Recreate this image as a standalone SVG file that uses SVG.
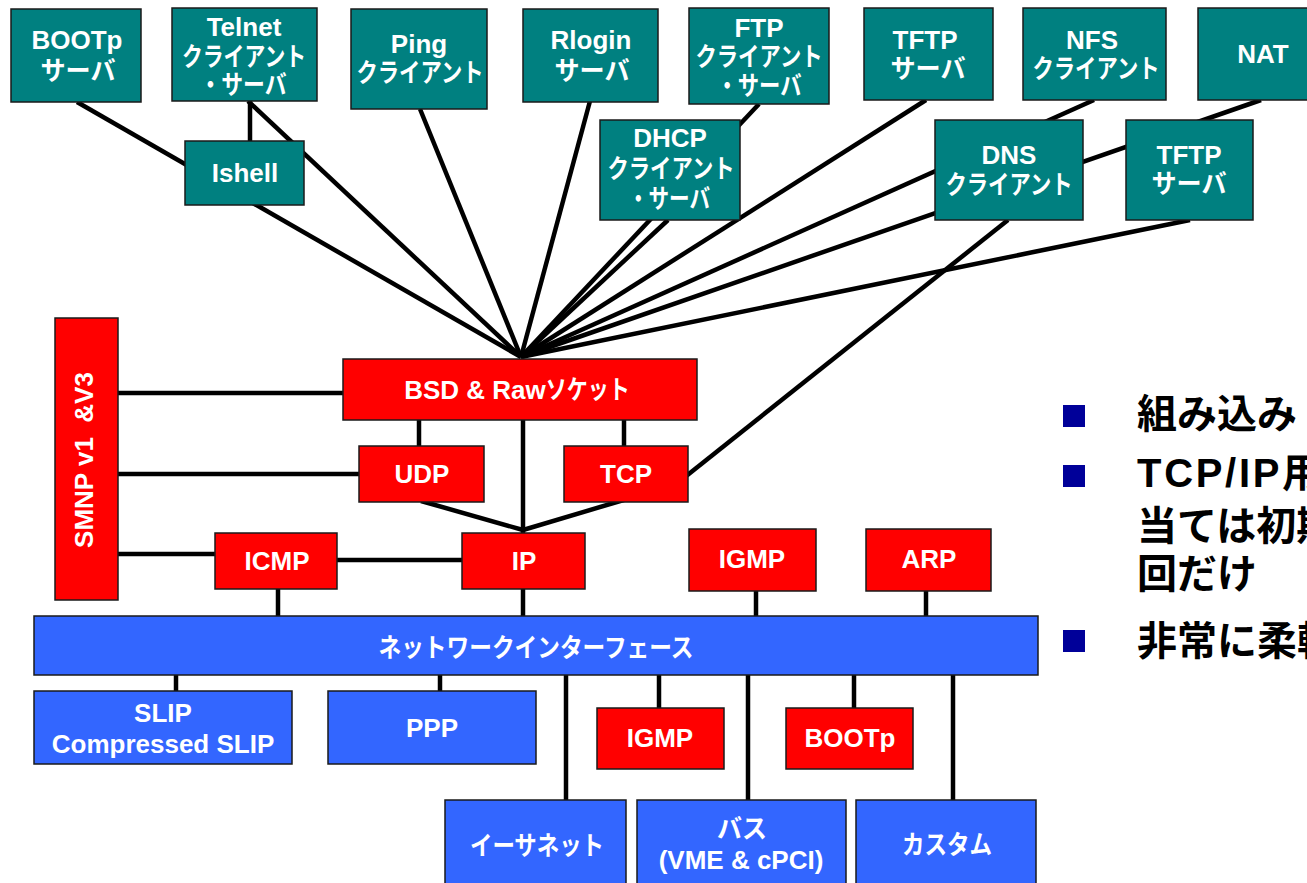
<svg xmlns="http://www.w3.org/2000/svg" width="1307" height="883" viewBox="0 0 1307 883">
<style>
  .t { fill:#008080; stroke:#1a1a1a; stroke-width:1.5; }
  .r { fill:#FF0000; stroke:#1a1a1a; stroke-width:1.5; }
  .b { fill:#3366FF; stroke:#1a1a1a; stroke-width:1.5; }
  text { font-family:'Liberation Sans','Noto Sans CJK JP',sans-serif; font-weight:bold; }
  .l { fill:#ffffff; font-size:26px; text-anchor:middle; }
  .n { fill:#000000; font-size:40px; }
  .c line { stroke:#000000; stroke-width:4.5; }
</style>
<rect width="1307" height="883" fill="#ffffff"/>
<g id="connectors" class="c">
  <line x1="77" y1="102" x2="521" y2="357"/>
  <line x1="248" y1="101" x2="521" y2="357"/>
  <line x1="250" y1="101" x2="250" y2="141"/>
  <line x1="420" y1="109" x2="521" y2="357"/>
  <line x1="590" y1="101" x2="521" y2="357"/>
  <line x1="668" y1="220" x2="521" y2="357"/>
  <line x1="759" y1="104" x2="521" y2="357"/>
  <line x1="926" y1="100" x2="521" y2="357"/>
  <line x1="1094" y1="100" x2="521" y2="357"/>
  <line x1="1261" y1="100" x2="521" y2="357"/>
  <line x1="1190" y1="220" x2="521" y2="357"/>
  <line x1="1008" y1="220" x2="685" y2="477"/>
  <line x1="118" y1="393" x2="343" y2="393"/>
  <line x1="118" y1="474" x2="359" y2="474"/>
  <line x1="118" y1="554" x2="215" y2="554"/>
  <line x1="419" y1="420" x2="419" y2="446"/>
  <line x1="624" y1="420" x2="624" y2="446"/>
  <line x1="523" y1="420" x2="523" y2="533"/>
  <line x1="421" y1="501" x2="523" y2="530"/>
  <line x1="627" y1="499" x2="523" y2="530"/>
  <line x1="337" y1="560" x2="462" y2="560"/>
  <line x1="278" y1="589" x2="278" y2="616"/>
  <line x1="523" y1="589" x2="523" y2="616"/>
  <line x1="756" y1="591" x2="756" y2="616"/>
  <line x1="926" y1="591" x2="926" y2="616"/>
  <line x1="176" y1="675" x2="176" y2="691"/>
  <line x1="440" y1="675" x2="440" y2="691"/>
  <line x1="566" y1="675" x2="566" y2="800"/>
  <line x1="659" y1="675" x2="659" y2="708"/>
  <line x1="748" y1="675" x2="748" y2="800"/>
  <line x1="854" y1="675" x2="854" y2="708"/>
  <line x1="953" y1="675" x2="953" y2="800"/>
</g>

<g id="bootp-server">
  <rect class="t" x="11" y="9" width="130" height="93"/>
  <text class="l" x="77" y="49">BOOTp</text>
  <text class="l" x="78" y="80" textLength="75" lengthAdjust="spacingAndGlyphs">サーバ</text>
</g>
<g id="telnet">
  <rect class="t" x="172" y="8" width="145" height="93"/>
  <text class="l" x="244" y="36">Telnet</text>
  <text class="l" x="244" y="66" textLength="124" lengthAdjust="spacingAndGlyphs">クライアント</text>
  <text class="l" x="243" y="94" textLength="87" lengthAdjust="spacingAndGlyphs">・サーバ</text>
</g>
<g id="ping">
  <rect class="t" x="351" y="9" width="136" height="100"/>
  <text class="l" x="419" y="53">Ping</text>
  <text class="l" x="420" y="82" textLength="127" lengthAdjust="spacingAndGlyphs">クライアント</text>
</g>
<g id="rlogin">
  <rect class="t" x="523" y="9" width="135" height="93"/>
  <text class="l" x="591" y="49">Rlogin</text>
  <text class="l" x="592" y="80" textLength="75" lengthAdjust="spacingAndGlyphs">サーバ</text>
</g>
<g id="ftp">
  <rect class="t" x="689" y="8" width="140" height="96"/>
  <text class="l" x="759" y="37">FTP</text>
  <text class="l" x="759" y="66" textLength="127" lengthAdjust="spacingAndGlyphs">クライアント</text>
  <text class="l" x="759" y="95" textLength="85" lengthAdjust="spacingAndGlyphs">・サーバ</text>
</g>
<g id="tftp-server-1">
  <rect class="t" x="864" y="8" width="129" height="92"/>
  <text class="l" x="925" y="49">TFTP</text>
  <text class="l" x="928" y="78" textLength="75" lengthAdjust="spacingAndGlyphs">サーバ</text>
</g>
<g id="nfs">
  <rect class="t" x="1023" y="8" width="143" height="92"/>
  <text class="l" x="1092" y="49">NFS</text>
  <text class="l" x="1096" y="78" textLength="127" lengthAdjust="spacingAndGlyphs">クライアント</text>
</g>
<g id="nat">
  <rect class="t" x="1198" y="8" width="122" height="92"/>
  <text class="l" x="1263" y="63">NAT</text>
</g>
<g id="ishell">
  <rect class="t" x="185" y="141" width="119" height="64"/>
  <text class="l" x="245" y="182">Ishell</text>
</g>
<g id="dhcp">
  <rect class="t" x="600" y="120" width="140" height="100"/>
  <text class="l" x="670" y="147">DHCP</text>
  <text class="l" x="671" y="178" textLength="127" lengthAdjust="spacingAndGlyphs">クライアント</text>
  <text class="l" x="669" y="208" textLength="82" lengthAdjust="spacingAndGlyphs">・サーバ</text>
</g>
<g id="dns">
  <rect class="t" x="935" y="120" width="148" height="100"/>
  <text class="l" x="1009" y="164">DNS</text>
  <text class="l" x="1009" y="194" textLength="127" lengthAdjust="spacingAndGlyphs">クライアント</text>
</g>
<g id="tftp-server-2">
  <rect class="t" x="1126" y="120" width="127" height="100"/>
  <text class="l" x="1189" y="164">TFTP</text>
  <text class="l" x="1189" y="193" textLength="75" lengthAdjust="spacingAndGlyphs">サーバ</text>
</g>

<g id="smnp">
  <rect class="r" x="55" y="318" width="63" height="282"/>
  <text class="l" transform="translate(93,460) rotate(-90)" x="0" y="0" xml:space="preserve">SMNP v1  &amp;V3</text>
</g>
<g id="bsd-raw-socket">
  <rect class="r" x="343" y="359" width="354" height="61"/>
  <text class="l" x="517" y="399"><tspan>BSD &amp; Raw</tspan><tspan textLength="84" lengthAdjust="spacingAndGlyphs">ソケット</tspan></text>
</g>
<g id="udp">
  <rect class="r" x="359" y="446" width="125" height="56"/>
  <text class="l" x="422" y="483">UDP</text>
</g>
<g id="tcp">
  <rect class="r" x="564" y="446" width="124" height="56"/>
  <text class="l" x="626" y="483">TCP</text>
</g>
<g id="icmp">
  <rect class="r" x="215" y="533" width="122" height="56"/>
  <text class="l" x="277" y="570">ICMP</text>
</g>
<g id="ip">
  <rect class="r" x="462" y="533" width="123" height="56"/>
  <text class="l" x="524" y="570">IP</text>
</g>
<g id="igmp-1">
  <rect class="r" x="689" y="529" width="127" height="62"/>
  <text class="l" x="752" y="568">IGMP</text>
</g>
<g id="arp">
  <rect class="r" x="866" y="529" width="125" height="62"/>
  <text class="l" x="929" y="568">ARP</text>
</g>

<g id="network-interface">
  <rect class="b" x="34" y="616" width="1004" height="59"/>
  <text class="l" x="536" y="657" textLength="315" lengthAdjust="spacingAndGlyphs">ネットワークインターフェース</text>
</g>
<g id="slip">
  <rect class="b" x="34" y="691" width="258" height="73"/>
  <text class="l" x="163" y="722">SLIP</text>
  <text class="l" x="163" y="753">Compressed SLIP</text>
</g>
<g id="ppp">
  <rect class="b" x="328" y="691" width="208" height="73"/>
  <text class="l" x="432" y="737">PPP</text>
</g>
<g id="igmp-2">
  <rect class="r" x="597" y="708" width="127" height="61"/>
  <text class="l" x="660" y="747">IGMP</text>
</g>
<g id="bootp-2">
  <rect class="r" x="786" y="708" width="127" height="61"/>
  <text class="l" x="850" y="747">BOOTp</text>
</g>
<g id="ethernet">
  <rect class="b" x="445" y="800" width="181" height="90"/>
  <text class="l" x="537" y="855" textLength="134" lengthAdjust="spacingAndGlyphs">イーサネット</text>
</g>
<g id="bus">
  <rect class="b" x="637" y="800" width="209" height="90"/>
  <text class="l" x="742" y="838" textLength="50" lengthAdjust="spacingAndGlyphs">バス</text>
  <text class="l" x="741" y="869">(VME &amp; cPCI)</text>
</g>
<g id="custom">
  <rect class="b" x="856" y="800" width="180" height="90"/>
  <text class="l" x="947" y="854" textLength="90" lengthAdjust="spacingAndGlyphs">カスタム</text>
</g>

<g id="notes">
  <rect x="1063" y="405" width="22" height="22" fill="#000099"/>
  <rect x="1063" y="465" width="22" height="22" fill="#000099"/>
  <rect x="1063" y="630" width="22" height="22" fill="#000099"/>
  <text class="n" x="1137" y="428">組み込み</text>
  <text class="n" x="1137" y="487"><tspan letter-spacing="2.7">TCP/IP</tspan>用</text>
  <text class="n" x="1137" y="540">当ては初期</text>
  <text class="n" x="1137" y="588">回だけ</text>
  <text class="n" x="1137" y="655">非常に柔軟</text>
</g>
</svg>
